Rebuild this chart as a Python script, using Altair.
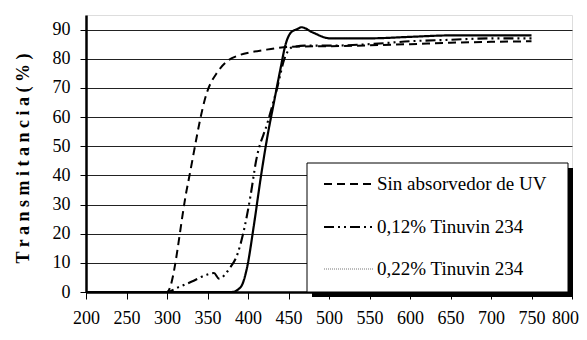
import altair as alt
import pandas as pd

# Wavelength (nm) and transmittance (%)
wl_sin = [200, 250, 300, 325, 350, 362, 375, 387, 403, 420, 444, 470, 500, 550, 600, 650, 700, 750]
t_sin  = [0, 0, 0, 36, 69, 75.3, 79.3, 81, 82.2, 83, 83.9, 84.2, 84.3, 84.6, 85, 85.5, 85.8, 86]

wl_012 = [200, 250, 300, 313, 330, 350, 358, 364, 377, 387, 394, 403, 410, 424, 436, 445, 455, 470, 500, 550, 600, 650, 700, 750]
t_012  = [0, 0, 0, 1.5, 3.5, 6, 6.5, 4.6, 8, 13, 20, 32.8, 45, 58, 70, 80, 84, 84.5, 84.5, 85, 86, 86.5, 87, 87]

wl_022 = [200, 250, 300, 350, 380, 391, 399, 407, 416, 424, 432, 440, 446, 453, 461, 466, 480, 501, 550, 600, 650, 700, 750]
t_022  = [0, 0, 0, 0, 0, 1.7, 8.6, 22.4, 39.7, 53.4, 65, 76.4, 84.5, 89, 90.2, 90.8, 89, 87, 87, 87.5, 88, 88, 88]

series_names = ["Sin absorvedor de UV", "0,12% Tinuvin 234", "0,22% Tinuvin 234"]
x_ticks = list(range(200, 801, 50))
y_ticks = list(range(0, 91, 10))

rows = []
for name, xs, ys in zip(series_names, [wl_sin, wl_012, wl_022], [t_sin, t_012, t_022]):
    for i, (a, b) in enumerate(zip(xs, ys)):
        rows.append({"serie": name, "wl": a, "t": b, "ord": i})
df = pd.DataFrame(rows)

FONT = "'Liberation Serif', 'Times New Roman', Times, serif"

lines = alt.Chart(df).mark_line(color="black", interpolate="monotone").encode(
    x=alt.X("wl:Q", scale=alt.Scale(domain=[200, 800], nice=False),
            axis=alt.Axis(values=x_ticks, title=None, grid=False, tickSize=7,
                          tickColor="black", domainColor="black", domainWidth=2.5,
                          labelFont=FONT, labelFontSize=18, labelPadding=10,
                          labelColor="black", labelOverlap=False, labelFlush=False,
                          labelOffset={"condition": {"test": "datum.value == 800", "value": -7},
                                       "value": 0})),
    y=alt.Y("t:Q", scale=alt.Scale(domain=[0, 95], nice=False),
            axis=alt.Axis(values=y_ticks, title="T r a n s m i t a n c i a   ( % )",
                          grid=True, gridColor="#222", gridWidth=1, tickSize=6,
                          tickColor="black", domainColor="black", domainWidth=2.5,
                          labelFont=FONT, labelFontSize=18, labelPadding=10,
                          labelColor="black", titleFont=FONT, titleFontSize=18,
                          titleFontWeight="bold", titleColor="black", titlePadding=20,
                          titleY=143)),
    detail="serie:N",
    order="ord:Q",
    strokeDash=alt.StrokeDash("serie:N", scale=alt.Scale(domain=series_names,
                              range=[[8, 5], [10, 4, 2, 4, 2, 4], [1, 0]]), legend=None),
    strokeWidth=alt.StrokeWidth("serie:N", scale=alt.Scale(domain=series_names,
                                range=[2, 2.2, 2.6]), legend=None),
)

one = alt.Data(values=[{}])

shadow = alt.Chart(one).mark_rect(color="black").encode(
    x=alt.value(226), x2=alt.value(487), y=alt.value(153), y2=alt.value(282))
box = alt.Chart(one).mark_rect(fill="white", stroke="black", strokeWidth=1).encode(
    x=alt.value(221), x2=alt.value(482), y=alt.value(148), y2=alt.value(277))

leg_y = [169, 212, 254]
leg_dash = [[8, 5], [10, 4, 2, 4, 2, 4], [1, 1]]
leg_w = [2, 2.2, 1]
leg_col = ["black", "black", "#777"]

layers = [lines, shadow, box]
for name, yy, d, w, c in zip(series_names, leg_y, leg_dash, leg_w, leg_col):
    layers.append(alt.Chart(one).mark_rule(color=c, strokeDash=d, strokeWidth=w).encode(
        x=alt.value(238), x2=alt.value(288), y=alt.value(yy)))
    layers.append(alt.Chart(one).mark_text(text=name, font=FONT, fontSize=19, align="left",
                                           baseline="middle", color="black").encode(
        x=alt.value(291), y=alt.value(yy)))

chart = alt.layer(*layers).properties(
    width=486, height=277,
    autosize=alt.AutoSizeParams(type="none"),
    padding={"left": 78, "top": 7, "right": 7, "bottom": 40},
).configure_view(stroke="black", strokeWidth=2.5).configure(background="white")

chart.save("out.html", embed_options={"renderer": "svg", "actions": False})
